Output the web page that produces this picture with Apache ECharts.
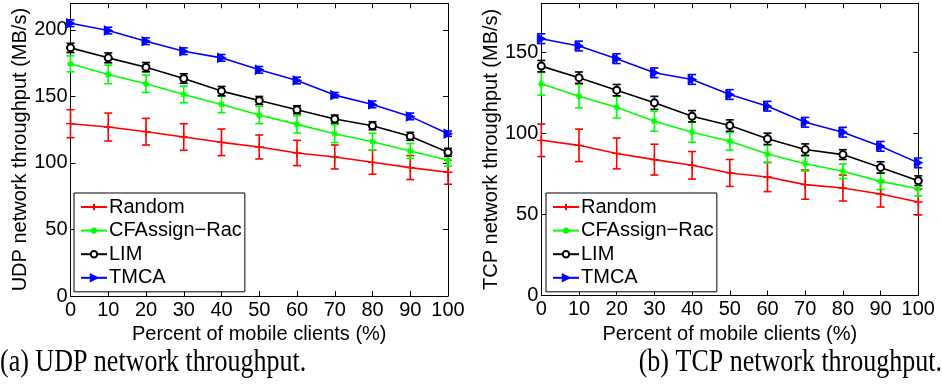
<!DOCTYPE html>
<html>
<head>
<meta charset="utf-8">
<script src="https://cdn.jsdelivr.net/npm/echarts@6/dist/echarts.min.js"></script>
<style>
html,body{margin:0;padding:0;background:#fff;}
#chart{width:942px;height:390px;}
</style>
</head>
<body>
<div id="chart"></div>
<script>
// ---- data ----
const xValues = [0, 10, 20, 30, 40, 50, 60, 70, 80, 90, 100];
const seriesNames = ['Random', 'CFAssign\u2212Rac', 'LIM', 'TMCA'];

// UDP (a)
const udpRandom    = [129.5, 127, 123.5, 119.5, 115.5, 112, 107.5, 104.5, 100.5, 96.5, 93];
const udpRandomErr = [10.5, 10.5, 10, 10, 10, 9, 9.5, 9, 9, 9, 9];
const udpCF        = [174.5, 166.5, 159.5, 151.5, 144, 136, 129, 122, 116, 109, 102];
const udpCFErr     = [6, 7, 6.5, 6.3, 6.2, 6.5, 6.5, 6.7, 6.3, 5.6, 4.5];
const udpLIM       = [186.5, 179, 172, 163.5, 154, 147, 140, 133, 128, 120, 108];
const udpLIMErr    = [3.5, 3.7, 3.5, 3.5, 3.5, 3, 3, 3, 3, 3, 3];
const udpTMCA      = [205, 199.5, 191.5, 184, 179, 170, 162, 151, 144, 135, 122];
const udpTMCAErr   = [2.5, 2.5, 2.5, 2.5, 2.5, 2.5, 2.5, 2, 2.5, 2.5, 2];

// TCP (b)
const tcpRandom    = [95.6, 92.5, 87.5, 83.7, 80.2, 75.5, 73, 68.3, 66.2, 62.5, 57.6];
const tcpRandomErr = [10, 10, 9.5, 9.5, 8.5, 8.3, 9, 9, 8, 8, 8];
const tcpCF        = [130.4, 122.8, 116, 107.4, 100.6, 95, 87.2, 81.2, 76.5, 70.3, 65.8];
const tcpCFErr     = [7, 7.2, 6.7, 6.2, 6.2, 5.4, 5.4, 4.6, 4.5, 5, 4.5];
const tcpLIM       = [141.3, 134.2, 126.5, 118.7, 110.4, 104.7, 96.5, 89.9, 86.8, 78.9, 70.7];
const tcpLIMErr    = [3.5, 3.5, 3.5, 4, 3.5, 3.5, 3.5, 3.5, 3, 3.5, 3];
const tcpTMCA      = [158.2, 153.7, 145.9, 137.2, 133.1, 123.8, 116.6, 106.7, 100.6, 91.9, 81.7];
const tcpTMCAErr   = [3, 3, 3, 3, 3, 3, 3, 3, 3, 3, 3];

const xTitle = 'Percent of mobile clients (%)';
const yTitles = ['UDP network throughput (MB/s)', 'TCP network throughput (MB/s)'];
const captions = ['(a) UDP network throughput.', '(b) TCP network throughput.'];
const yMax = [220, 180];

// ---- styles ----
const FONT = '"Liberation Sans", Arial, Helvetica, sans-serif';
const colors = ['#ff0000', '#00ff00', '#000000', '#0000ff'];
const symbols = [
  'path://M5,0 L5,10 M0,5 L10,5',
  'path://M5,0 L5,10 M0,5 L10,5 M1.5,1.5 L8.5,8.5 M8.5,1.5 L1.5,8.5',
  'emptyCircle',
  'path://M0,0 L10,5 L0,10 Z'
];
const symbolSizes = [9, 7, 7, [8, 9]];

const chart = echarts.init(document.getElementById('chart'), null, {renderer: 'canvas'});

const grids = [
  {left: 70.5, top: 3.3, width: 377.5, height: 292.7},
  {left: 541.3, top: 3.3, width: 377, height: 292.2}
];

const xAxes = [], yAxes = [], series = [], legends = [];
const panels = [
  {vals: [udpRandom, udpCF, udpLIM, udpTMCA], errs: [udpRandomErr, udpCFErr, udpLIMErr, udpTMCAErr]},
  {vals: [tcpRandom, tcpCF, tcpLIM, tcpTMCA], errs: [tcpRandomErr, tcpCFErr, tcpLIMErr, tcpTMCAErr]}
];

panels.forEach((p, g) => {
  const axLine = {show: true, onZero: false, lineStyle: {color: '#000', width: 1}};
  const tick = {show: true, inside: true, length: 5, lineStyle: {color: '#000', width: 1}};
  xAxes.push({
    gridIndex: g, type: 'value', min: 0, max: 100, interval: 10, position: 'bottom',
    axisLine: axLine, axisTick: tick, splitLine: {show: false},
    axisLabel: {color: '#000', fontSize: 20, fontFamily: FONT, margin: 4},
    name: xTitle, nameLocation: 'middle', nameGap: 23,
    nameTextStyle: {color: '#000', fontSize: 20, fontFamily: FONT}
  });
  xAxes.push({
    gridIndex: g, type: 'value', min: 0, max: 100, interval: 10, position: 'top',
    axisLine: axLine, axisTick: tick, splitLine: {show: false}, axisLabel: {show: false}
  });
  yAxes.push({
    gridIndex: g, type: 'value', min: 0, max: yMax[g], interval: 50, position: 'left',
    axisLine: axLine, axisTick: tick, splitLine: {show: false},
    axisLabel: {color: '#000', fontSize: 20, fontFamily: FONT, margin: 3, showMaxLabel: false},
    name: yTitles[g], nameLocation: 'middle', nameGap: 37,
    nameTextStyle: {color: '#000', fontSize: 20, fontFamily: FONT}
  });
  yAxes.push({
    gridIndex: g, type: 'value', min: 0, max: yMax[g], interval: 50, position: 'right',
    axisLine: axLine, axisTick: tick, splitLine: {show: false}, axisLabel: {show: false}
  });

  const xi = g * 2, yi = g * 2;
  p.vals.forEach((vals, s) => {
    const errData = xValues.map((x, i) => [x, vals[i] - p.errs[s][i], vals[i] + p.errs[s][i]]);
    const col = colors[s];
    series.push({
      type: 'custom', xAxisIndex: xi, yAxisIndex: yi, silent: true, z: 2 + s,
      encode: {x: 0, y: [1, 2]},
      data: errData,
      renderItem: function (params, api) {
        const x = api.value(0);
        const lo = api.coord([x, api.value(1)]);
        const hi = api.coord([x, api.value(2)]);
        const w = 4;
        const st = {stroke: col, lineWidth: 1.6};
        return {
          type: 'group',
          children: [
            {type: 'line', shape: {x1: lo[0], y1: lo[1], x2: hi[0], y2: hi[1]}, style: st},
            {type: 'line', shape: {x1: lo[0] - w, y1: lo[1], x2: lo[0] + w, y2: lo[1]}, style: st},
            {type: 'line', shape: {x1: hi[0] - w, y1: hi[1], x2: hi[0] + w, y2: hi[1]}, style: st}
          ]
        };
      }
    });
  });
  p.vals.forEach((vals, s) => {
    series.push({
      type: 'line', name: seriesNames[s], xAxisIndex: xi, yAxisIndex: yi, z: 3 + s,
      data: xValues.map((x, i) => [x, vals[i]]),
      symbol: symbols[s], symbolSize: symbolSizes[s], showAllSymbol: true,
      color: colors[s],
      lineStyle: {color: colors[s], width: 1.6},
      itemStyle: {color: colors[s], borderColor: colors[s], borderWidth: s === 3 ? 1 : 1.3},
      animation: false, silent: true
    });
  });

  legends.push({
    data: seriesNames,
    orient: 'vertical',
    left: g === 0 ? 74 : 546, top: 193,
    padding: [4, 3, 4, 6],
    itemWidth: 26, itemHeight: 8, itemGap: 3.6,
    backgroundColor: '#fff', borderColor: '#000', borderWidth: 1,
    selectedMode: false,
    textStyle: {color: '#000', fontSize: 20, fontFamily: FONT, lineHeight: 20, padding: [0, 0, 0, -3]}
  });
});

chart.setOption({
  animation: false,
  grid: grids,
  xAxis: xAxes,
  yAxis: yAxes,
  legend: legends,
  series: series,
  graphic: [
    {type: 'text', left: 0, top: 347, scaleY: 1.2, style: {text: captions[0], font: '26px "Liberation Serif", "Times New Roman", serif', fill: '#000'}},
    {type: 'text', right: 0, top: 347, scaleY: 1.2, style: {text: captions[1], font: '26px "Liberation Serif", "Times New Roman", serif', fill: '#000'}}
  ]
});
</script>
</body>
</html>
